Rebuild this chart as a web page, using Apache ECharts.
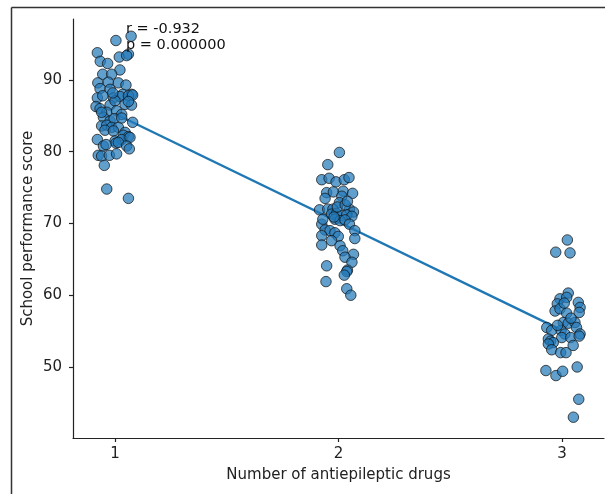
<!DOCTYPE html>
<html>
<head>
<meta charset="utf-8">
<script src="https://cdn.jsdelivr.net/npm/echarts@6/dist/echarts.min.js"></script>
<style>html,body{margin:0;padding:0;background:#fff}#c{width:605px;height:494px}</style>
</head>
<body>
<div id="c"></div>
<script>
// Group 1 (one antiepileptic drug): jittered x, score
const g1x = [1.004,1.072,0.921,0.934,0.967,1.019,1.060,1.052,1.022,0.945,0.985,0.923,0.970,1.015,1.049,0.933,0.978,1.034,1.074,0.921,0.945,0.993,1.022,1.060,1.079,0.915,0.933,0.978,1.000,1.045,1.074,0.963,1.007,1.030,0.948,0.978,0.996,1.079,0.940,0.963,0.985,1.015,0.955,0.993,1.045,1.037,1.060,0.921,1.000,1.030,1.067,0.948,1.004,1.015,1.052,1.064,0.925,0.940,0.975,1.007,0.952,0.963,1.060,0.940,1.030,0.990,1.060,0.960];
const g1y = [95.5,96.1,93.8,92.6,92.3,93.2,93.6,93.4,91.4,90.8,90.8,89.6,89.7,89.6,89.3,88.8,88.7,88.0,88.0,87.5,87.8,87.5,87.7,87.8,87.9,86.3,86.0,86.5,87.1,86.6,86.5,85.5,85.7,85.2,84.8,84.3,84.6,84.1,83.6,83.7,83.4,83.4,83.0,82.9,82.7,82.3,82.1,81.7,81.5,81.7,82.0,80.8,81.2,81.3,80.8,80.4,79.5,79.4,79.5,79.7,78.1,74.8,73.5,85.5,84.7,88.2,87.0,81.0];
// Group 2 (two drugs)
const g2x = [2.004,1.952,1.925,1.958,1.989,2.026,2.047,1.947,1.940,1.977,2.021,2.063,2.015,2.004,1.915,1.952,1.975,2.049,2.067,1.969,1.991,2.015,2.037,2.060,1.984,2.007,2.029,1.925,2.049,1.940,1.962,1.984,2.073,1.925,1.999,2.073,1.925,1.969,2.007,2.019,2.067,2.029,2.060,1.947,2.040,2.037,2.026,1.944,2.037,2.055,1.995,2.030,1.980,2.040,1.930];
const g2y = [79.9,78.2,76.1,76.3,75.8,76.1,76.4,74.3,73.5,74.4,74.5,74.2,73.8,72.9,71.9,72.0,72.0,72.0,71.6,71.3,71.4,71.1,71.2,71.0,70.6,70.4,70.5,69.9,69.9,69.1,69.0,68.7,69.0,68.3,68.2,67.9,67.0,67.6,66.9,66.2,65.7,65.3,64.6,64.1,63.5,63.3,62.8,61.9,60.9,60.0,72.3,72.6,70.9,73.1,70.6];
// Group 3 (three drugs)
const g3x = [3.024,2.972,3.036,3.028,2.991,3.021,3.073,3.081,2.979,2.969,2.991,3.077,3.021,3.006,3.028,3.058,2.932,2.954,2.996,3.065,3.081,3.013,2.999,3.039,3.077,2.939,2.949,2.961,2.939,2.954,2.994,3.018,2.928,2.973,3.003,3.068,3.075,3.051,3.040,3.010,2.980,3.050];
const g3y = [67.7,66.0,65.9,60.3,59.5,59.7,59.0,58.3,58.8,57.8,58.1,57.6,57.5,56.2,56.1,56.2,55.5,55.1,55.1,55.5,54.6,54.6,54.1,54.1,54.3,53.9,53.6,53.4,53.2,52.4,52.0,52.0,49.5,48.8,49.4,50.0,45.5,43.0,56.8,58.9,55.8,53.0];
// Fitted regression line
const fitX = [1, 3];
const fitY = [85.3, 55.1];
const xTicks = [1, 2, 3];
const yTicks = [50, 60, 70, 80, 90];
const statText = ['r = -0.932', 'p = 0.000000'];

const pts = [];
[[g1x,g1y],[g2x,g2y],[g3x,g3y]].forEach(([xs,ys]) => xs.forEach((x,i) => pts.push([x, ys[i]])));
const fit = fitX.map((x,i) => [x, fitY[i]]);

const font = 'DejaVu Sans';
const chart = echarts.init(document.getElementById('c'), null, {renderer: 'canvas'});
chart.setOption({
  animation: false,
  backgroundColor: '#fff',
  grid: {left: 73, top: 19, right: 1, bottom: 56, containLabel: false},
  xAxis: {
    type: 'value', min: 0.812, max: 3.188,
    name: 'Number of antiepileptic drugs', nameLocation: 'middle', nameGap: 30, nameMoveOverlap: false,
    nameTextStyle: {fontFamily: font, fontSize: 15, color: '#222'},
    axisLine: {show: true, onZero: false, lineStyle: {color: '#222', width: 1.2}},
    axisTick: {show: true, length: 4, customValues: xTicks, lineStyle: {color: '#222', width: 1.2}},
    axisLabel: {customValues: xTicks, fontFamily: font, fontSize: 15, color: '#222', margin: 9},
    splitLine: {show: false}
  },
  yAxis: {
    type: 'value', min: 40.1, max: 98.5,
    name: 'School performance score', nameLocation: 'middle', nameGap: 37, nameRotate: 90, nameMoveOverlap: false,
    nameTextStyle: {fontFamily: font, fontSize: 15, color: '#222'},
    axisLine: {show: true, onZero: false, lineStyle: {color: '#222', width: 1.2}},
    axisTick: {show: true, length: 4, customValues: yTicks, lineStyle: {color: '#222', width: 1.2}},
    axisLabel: {customValues: yTicks, fontFamily: font, fontSize: 15, color: '#222', margin: 11},
    splitLine: {show: false}
  },
  series: [
    {
      type: 'line', data: fit, showSymbol: false, symbol: 'none',
      lineStyle: {color: '#1f77b4', width: 2.3}, z: 2
    },
    {
      type: 'scatter', data: pts, symbolSize: 10.5,
      itemStyle: {color: 'rgba(36,122,186,0.9)', borderColor: 'rgba(15,15,15,0.9)', borderWidth: 1},
      z: 3
    }
  ],
  graphic: [
    {type: 'line', shape: {x1: 11.5, y1: 7.5, x2: 605, y2: 7.5}, style: {stroke: '#333', lineWidth: 1.5}},
    {type: 'line', shape: {x1: 11.5, y1: 7.5, x2: 11.5, y2: 494}, style: {stroke: '#333', lineWidth: 1.5}},
    {type: 'text', left: 126, top: 21, style: {text: statText.join('\n'), font: '14.5px "DejaVu Sans"', fill: '#111', lineHeight: 16}, z: 10}
  ]
});
</script>
</body>
</html>
